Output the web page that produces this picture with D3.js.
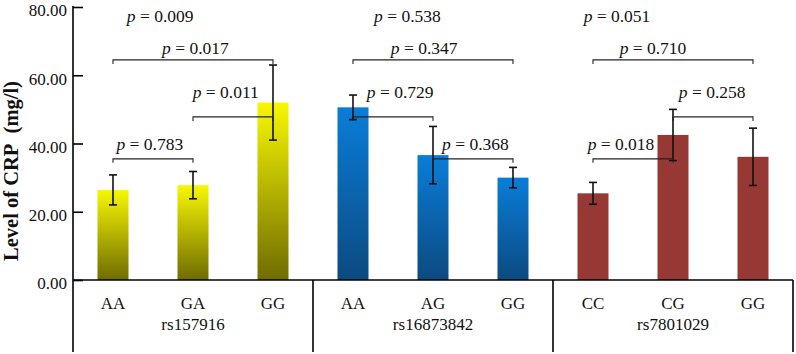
<!DOCTYPE html>
<html>
<head>
<meta charset="utf-8">
<script src="https://cdn.jsdelivr.net/npm/d3@7"></script>
<style>
  body { margin: 0; background: #fff; }
  text { font-family: "Liberation Serif", "Times New Roman", serif; }
</style>
</head>
<body>
<div id="chart"></div>
<script>
// Data
const snps = ["rs157916", "rs16873842", "rs7801029"];
const genotypes = [["AA", "GA", "GG"], ["AA", "AG", "GG"], ["CC", "CG", "GG"]];
const means = [[26.4, 27.8, 52.0], [50.6, 36.6, 30.0], [25.4, 42.5, 36.1]];
const errs = [[4.4, 4.0, 11.0], [3.6, 8.4, 3.0], [3.2, 7.5, 8.4]];
const yTicks = [0, 20, 40, 60, 80];

// p-values: group, from bar, to bar (null = text only), bracket level, label
const pGroup = [0, 0, 0, 0, 1, 1, 1, 1, 2, 2, 2, 2];
const pFrom = [0, 0, 1, 0, 0, 0, 0, 1, 0, 0, 1, 0];
const pTo = [null, 2, 2, 1, null, 2, 1, 2, null, 2, 2, 1];
const pLevel = [null, 64.5, 47.8, 35.5, null, 64.5, 47.8, 35.5, null, 64.5, 47.8, 35.5];
const pLabel = ["0.009", "0.017", "0.011", "0.783", "0.538", "0.347", "0.729", "0.368", "0.051", "0.710", "0.258", "0.018"];
// where each p label sits (bar-index units within group, value units)
const pLabelX = [0.59, 1.03, 1.41, 0.46, 0.68, 0.89, 0.59, 1.53, 0.30, 0.75, 1.49, 0.35];
const pLabelY = [77.3, 67.9, 55.0, 40.0, 77.3, 67.9, 55.0, 40.0, 77.3, 67.9, 55.0, 40.0];

const width = 796, height = 354;
const mLeft = 73, mRight = 793, mTop = 7, base = 280, mBottom = 352;

const bars = [];
snps.forEach((s, g) => genotypes[g].forEach((gt, i) => {
  bars.push({ g, i, key: s + "_" + gt, gt, mean: means[g][i], err: errs[g][i] });
}));

const x = d3.scaleBand()
  .domain(bars.map(d => d.key))
  .range([mLeft, mRight])
  .paddingInner(0.6125)
  .paddingOuter(0.30625);

const y = d3.scaleLinear().domain([0, 80]).range([base, mTop]);

const step = x.step();
const xc = (g, i) => mLeft + step * (3 * g + i) + step / 2;

const svg = d3.select("#chart").append("svg")
  .attr("width", width)
  .attr("height", height);

// gradients
const defs = svg.append("defs");
const grads = [["#f8f800", "#6f6c00"], ["#0a7dd8", "#0c4a80"], ["#963834", "#963834"]];
grads.forEach((c, g) => {
  const lg = defs.append("linearGradient")
    .attr("id", "grad" + g)
    .attr("x1", 0).attr("y1", 0).attr("x2", 0).attr("y2", 1);
  lg.append("stop").attr("offset", "0%").attr("stop-color", c[0]);
  lg.append("stop").attr("offset", "100%").attr("stop-color", c[1]);
});

// bars
svg.append("g").selectAll("rect")
  .data(bars)
  .join("rect")
  .attr("x", d => x(d.key))
  .attr("y", d => y(d.mean))
  .attr("width", x.bandwidth())
  .attr("height", d => base - y(d.mean))
  .attr("fill", d => `url(#grad${d.g})`);

// error bars
const eb = svg.append("g").attr("stroke", "#111").attr("stroke-width", 1.6);
bars.forEach(d => {
  const cx = x(d.key) + x.bandwidth() / 2;
  eb.append("line").attr("x1", cx).attr("x2", cx)
    .attr("y1", y(d.mean + d.err)).attr("y2", y(d.mean - d.err));
  [d.mean + d.err, d.mean - d.err].forEach(v => {
    eb.append("line").attr("x1", cx - 4).attr("x2", cx + 4)
      .attr("y1", y(v)).attr("y2", y(v));
  });
});

// y axis
const yAxis = d3.axisLeft(y)
  .tickValues(yTicks)
  .tickFormat(d3.format(".2f"))
  .tickSizeInner(-10)
  .tickSizeOuter(0)
  .tickPadding(6);

const ya = svg.append("g")
  .attr("transform", `translate(${mLeft},0)`)
  .call(yAxis);
ya.select(".domain").remove();
ya.selectAll(".tick line").attr("stroke", "#000").attr("stroke-width", 1.6);
ya.selectAll(".tick text")
  .attr("font-size", 17)
  .attr("dy", "0.52em")
  .attr("fill", "#111")
  .style("font-family", "'Liberation Serif', 'Times New Roman', serif");

// frame lines
const fr = svg.append("g").attr("stroke", "#000").attr("stroke-width", 1.6);
fr.append("line").attr("x1", mLeft).attr("x2", mLeft).attr("y1", mTop - 1).attr("y2", mBottom);
fr.append("line").attr("x1", mLeft).attr("x2", mRight).attr("y1", base).attr("y2", base);
[1, 2, 3].forEach(k => {
  const xx = mLeft + step * 3 * k;
  fr.append("line").attr("x1", xx).attr("x2", xx).attr("y1", base).attr("y2", mBottom);
});

// category labels
svg.append("g").selectAll("text")
  .data(bars)
  .join("text")
  .attr("x", d => x(d.key) + x.bandwidth() / 2)
  .attr("y", 309)
  .attr("text-anchor", "middle")
  .attr("font-size", 17)
  .attr("fill", "#111")
  .text(d => d.gt);

svg.append("g").selectAll("text")
  .data(snps)
  .join("text")
  .attr("x", (d, g) => xc(g, 1))
  .attr("y", 330)
  .attr("text-anchor", "middle")
  .attr("font-size", 17)
  .attr("fill", "#111")
  .text(d => d);

// y label
svg.append("text")
  .attr("transform", "translate(18,171) rotate(-90)")
  .attr("text-anchor", "middle")
  .attr("font-size", 20.5)
  .attr("font-weight", "bold")
  .attr("fill", "#111")
  .text("Level of CRP\u00a0\u00a0(mg/l)");

// brackets
const br = svg.append("g").attr("stroke", "#222").attr("stroke-width", 1.1).attr("fill", "none");
pLabel.forEach((lab, k) => {
  if (pTo[k] === null) return;
  const g = pGroup[k];
  const x1 = xc(g, pFrom[k]), x2 = xc(g, pTo[k]);
  const yy = y(pLevel[k]);
  br.append("path")
    .attr("d", `M${x1},${yy + 4}V${yy}H${x2}V${yy + 4}`);
});

// p labels
pLabel.forEach((lab, k) => {
  const g = pGroup[k];
  const t = svg.append("text")
    .attr("x", mLeft + step * 3 * g + step / 2 + step * pLabelX[k])
    .attr("y", y(pLabelY[k]) + 6)
    .attr("text-anchor", "middle")
    .attr("font-size", 17.5)
    .attr("fill", "#111");
  t.append("tspan").attr("font-style", "italic").text("p");
  t.append("tspan").text(" = " + lab);
});
</script>
</body>
</html>
